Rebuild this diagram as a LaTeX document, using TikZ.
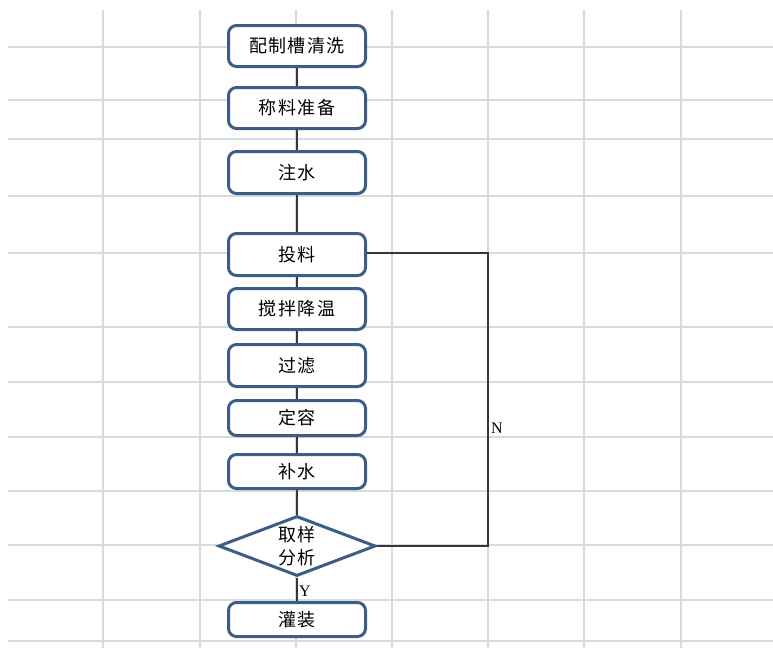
\documentclass[tikz,border=0pt]{standalone}
\usepackage{fontspec}
\setmainfont{Liberation Serif}
\newfontfamily\cjk[LetterSpace=8]{Noto Sans CJK SC}
\usetikzlibrary{shapes.geometric}
\definecolor{boxblue}{RGB}{62,93,133}
\definecolor{gridgray}{RGB}{216,218,226}
\definecolor{linegray}{RGB}{55,55,55}
\tikzset{
  gridline/.style={draw=gridgray, line width=1.1pt},
  stepbox/.style={draw=boxblue, line width=3pt, fill=white, rounded corners=8pt,
    minimum width=137pt, inner sep=0pt, font=\cjk\fontsize{18pt}{21pt}\selectfont},
  decbox/.style={diamond, draw=boxblue, line width=3pt, fill=white, inner sep=0pt,
    shape aspect=2.6, minimum width=157pt, minimum height=60pt, align=center,
    font=\cjk\fontsize{18pt}{23pt}\selectfont},
  conn/.style={draw=linegray, line width=1.6pt},
  yn/.style={font=\fontsize{16pt}{16pt}\selectfont, inner sep=0pt}
}
\begin{document}
\begin{tikzpicture}[x=1pt, y=-1pt]
\fill[white] (0,0) rectangle (773,648);
\useasboundingbox (0,0) rectangle (773,648);
% grid
\foreach \gx in {103,200,296,392,488,584,681} {\draw[gridline] (\gx,10) -- (\gx,648);}
\foreach \gy in {47,100,139,196,253,327,382,437,491,545,600,641} {\draw[gridline] (8,\gy) -- (773,\gy);}
% nodes
\node[stepbox, minimum height=41pt] (b1) at (297,46) {配制槽清洗};
\node[stepbox, minimum height=41pt] (b2) at (297,108) {称料准备};
\node[stepbox, minimum height=42pt] (b3) at (297,172.5) {注水};
\node[stepbox, minimum height=42pt] (b4) at (297,254.5) {投料};
\node[stepbox, minimum height=41pt] (b5) at (297,309) {搅拌降温};
\node[stepbox, minimum height=42pt] (b6) at (297,365.5) {过滤};
\node[stepbox, minimum height=35pt] (b7) at (297,418) {定容};
\node[stepbox, minimum height=34pt] (b8) at (297,471.5) {补水};
\node[decbox] (d) at (297,546) {取样\\分析};
\node[stepbox, minimum height=34pt] (b9) at (297,619.5) {灌装};
\coordinate (nr) at (488,253);
% connectors
\draw[conn] (b1) -- (b2);
\draw[conn] (b2) -- (b3);
\draw[conn] (b3) -- (b4);
\draw[conn] (b4) -- (b5);
\draw[conn] (b5) -- (b6);
\draw[conn] (b6) -- (b7);
\draw[conn] (b7) -- (b8);
\draw[conn] (b8) -- (d);
\draw[conn] (d) -- (b9);
\draw[conn] (b4.east |- nr) -- (nr) |- (d.east);
% labels
\node[yn, anchor=west] (nl) at (491,428) {N};
\node[yn, anchor=west] (yl) at (299,591) {Y};
\end{tikzpicture}
\end{document}
